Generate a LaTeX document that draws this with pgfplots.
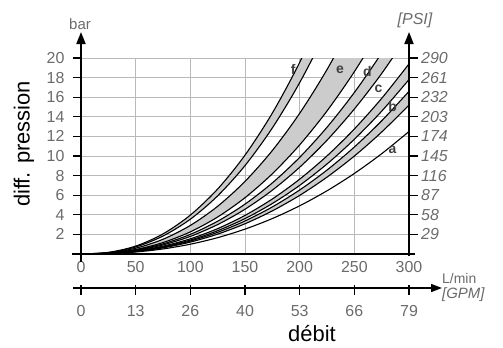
\documentclass[border=0pt]{standalone}
\usepackage{pgfplots}
\pgfplotsset{compat=1.18}
\usepackage{pgfplotstable}
\usepgfplotslibrary{fillbetween}
\usetikzlibrary{arrows.meta}
\usepackage{fontspec}
\setmainfont{Liberation Sans}
\definecolor{lblgray}{gray}{0.42}
\definecolor{bandgray}{gray}{0.80}

\pgfplotstableread{
x a b1 b2 c1 c2 d1 d2 e1 e2 f1 f2
0 0 0 0 0 0 0 0 0 0 0 0
25 0.041 0.050 0.055 0.059 0.064 0.074 0.083 0.093 0.120 0.147 0.164
50 0.203 0.247 0.269 0.289 0.315 0.365 0.407 0.459 0.592 0.721 0.806
75 0.516 0.627 0.685 0.734 0.800 0.928 1.033 1.167 1.504 1.833 2.049
100 0.999 1.215 1.327 1.422 1.550 1.798 2.003 2.261 2.915 3.551 3.970
125 1.669 2.029 2.216 2.376 2.590 3.004 3.346 3.777 4.870 5.933 6.632
150 2.538 3.087 3.371 3.614 3.939 4.569 5.089 5.745 7.408 9.024 10.088
175 3.618 4.400 4.805 5.152 5.615 6.513 7.254 8.189 10.559 12.863 14.380
200 4.919 5.982 6.533 7.005 7.634 8.854 9.862 11.133 14.356 17.488 19.551
225 6.450 7.843 8.565 9.184 10.010 11.610 12.931 14.597 18.823 22.930 25.634
250 8.219 9.994 10.915 11.704 12.756 14.794 16.478 18.602 23.987 29.221 32.666
275 10.233 12.443 13.589 14.572 15.881 18.419 20.515 23.159 29.864 36.380 40.670
300 12.5 15.2 16.6 17.8 19.4 22.5 25.06 28.29 36.48 44.44 49.68
}\curves

\begin{document}
\begin{tikzpicture}[x=1bp,y=1bp]
\path (-81,-93) rectangle (422,254);
\begin{axis}[
  at={(0,0)}, anchor=south west, scale only axis,
  width=328bp, height=196bp,
  xmin=0, xmax=300, ymin=0, ymax=20,
  axis line style={draw=none},
  xtick={0,50,...,300}, ytick={2,4,...,20},
  major tick length=0pt,
  grid=major, major grid style={gray!55, line width=0.9bp},
  tick label style={font=\fontsize{16}{18}\selectfont, text=lblgray},
  /pgf/number format/assume math mode=true,
  yticklabel style={xshift=-13bp},
  xticklabel style={yshift=-4bp},
  clip=true,
]
\addplot[name path=b1, draw=none, smooth] table[x=x,y=b1] {\curves};
\addplot[name path=b2, draw=none, smooth] table[x=x,y=b2] {\curves};
\addplot[name path=c1, draw=none, smooth] table[x=x,y=c1] {\curves};
\addplot[name path=c2, draw=none, smooth] table[x=x,y=c2] {\curves};
\addplot[name path=d1, draw=none, smooth] table[x=x,y=d1] {\curves};
\addplot[name path=d2, draw=none, smooth] table[x=x,y=d2] {\curves};
\addplot[name path=e1, draw=none, smooth] table[x=x,y=e1] {\curves};
\addplot[name path=e2, draw=none, smooth] table[x=x,y=e2] {\curves};
\addplot[name path=f1, draw=none, smooth] table[x=x,y=f1] {\curves};
\addplot[name path=f2, draw=none, smooth] table[x=x,y=f2] {\curves};
\addplot[bandgray] fill between[of=b1 and b2];
\addplot[bandgray] fill between[of=c1 and c2];
\addplot[bandgray] fill between[of=d1 and d2];
\addplot[bandgray] fill between[of=e1 and e2];
\addplot[bandgray] fill between[of=f1 and f2];
\addplot[black, line width=1.1bp, smooth] table[x=x,y=a]  {\curves};
\addplot[black, line width=1.1bp, smooth] table[x=x,y=b1] {\curves};
\addplot[black, line width=1.1bp, smooth] table[x=x,y=b2] {\curves};
\addplot[black, line width=1.1bp, smooth] table[x=x,y=c1] {\curves};
\addplot[black, line width=1.1bp, smooth] table[x=x,y=c2] {\curves};
\addplot[black, line width=1.1bp, smooth] table[x=x,y=d1] {\curves};
\addplot[black, line width=1.1bp, smooth] table[x=x,y=d2] {\curves};
\addplot[black, line width=1.1bp, smooth] table[x=x,y=e1] {\curves};
\addplot[black, line width=1.1bp, smooth] table[x=x,y=e2] {\curves};
\addplot[black, line width=1.1bp, smooth] table[x=x,y=f1] {\curves};
\addplot[black, line width=1.1bp, smooth] table[x=x,y=f2] {\curves};
\node[font=\fontsize{14}{16}\selectfont\bfseries, text=black!75] at (axis cs:285,10.6) {a};
\node[font=\fontsize{14}{16}\selectfont\bfseries, text=black!75] at (axis cs:285,15.0) {b};
\node[font=\fontsize{14}{16}\selectfont\bfseries, text=black!75] at (axis cs:272,16.9) {c};
\node[font=\fontsize{14}{16}\selectfont\bfseries, text=black!75] at (axis cs:262,18.6) {d};
\node[font=\fontsize{14}{16}\selectfont\bfseries, text=black!75] at (axis cs:237,18.8) {e};
\node[font=\fontsize{14}{16}\selectfont\bfseries, text=black!75] at (axis cs:194,18.8) {f};
\end{axis}
% axis lines
\draw[line width=1.8bp, -{Triangle[length=12bp,width=9bp]}] (0,-8) -- (0,222);
\draw[line width=1.8bp, -{Triangle[length=12bp,width=9bp]}] (328,-2) -- (328,222);
\draw[line width=1.8bp] (-9,0) -- (334,0);
\foreach \v in {2,4,...,20} {
  \draw[line width=1.2bp] (-8,\v*9.8) -- (0,\v*9.8);
  \draw[line width=1.2bp] (328,\v*9.8) -- (337,\v*9.8);
}
\foreach \v/\p in {2/29,4/58,6/87,8/116,10/145,12/174,14/203,16/232,18/261,20/290} {
  \node[anchor=west, font=\fontsize{16}{18}\selectfont\itshape, text=lblgray, inner sep=0pt] at (340,\v*9.8) {\p};
}
\node[font=\fontsize{15}{17}\selectfont, text=lblgray] at (-1,230) {bar};
\node[font=\fontsize{16}{18}\selectfont\itshape, text=lblgray] at (334,234) {[PSI]};
% GPM axis
\draw[line width=1.6bp, -{Triangle[length=11bp,width=8bp]}] (-8,-34) -- (361,-34);
\foreach \i/\g in {0/0,1/13,2/26,3/40,4/53,5/66,6/79} {
  \draw[line width=1.2bp] (\i*54.667,-31) -- (\i*54.667,-41);
  \node[font=\fontsize{16}{18}\selectfont, text=lblgray] at (\i*54.667,-57) {\g};
}
\node[anchor=west, inner sep=0pt, font=\fontsize{14}{16}\selectfont, text=lblgray] at (361,-25) {L/min};
\node[anchor=west, inner sep=0pt, font=\fontsize{15}{17}\selectfont\itshape, text=lblgray] at (361,-41) {[GPM]};
\node[font=\fontsize{22}{24}\selectfont] at (231,-80) {débit};
\node[font=\fontsize{22}{24}\selectfont, rotate=90] at (-57,110) {diff. pression};
\end{tikzpicture}
\end{document}
